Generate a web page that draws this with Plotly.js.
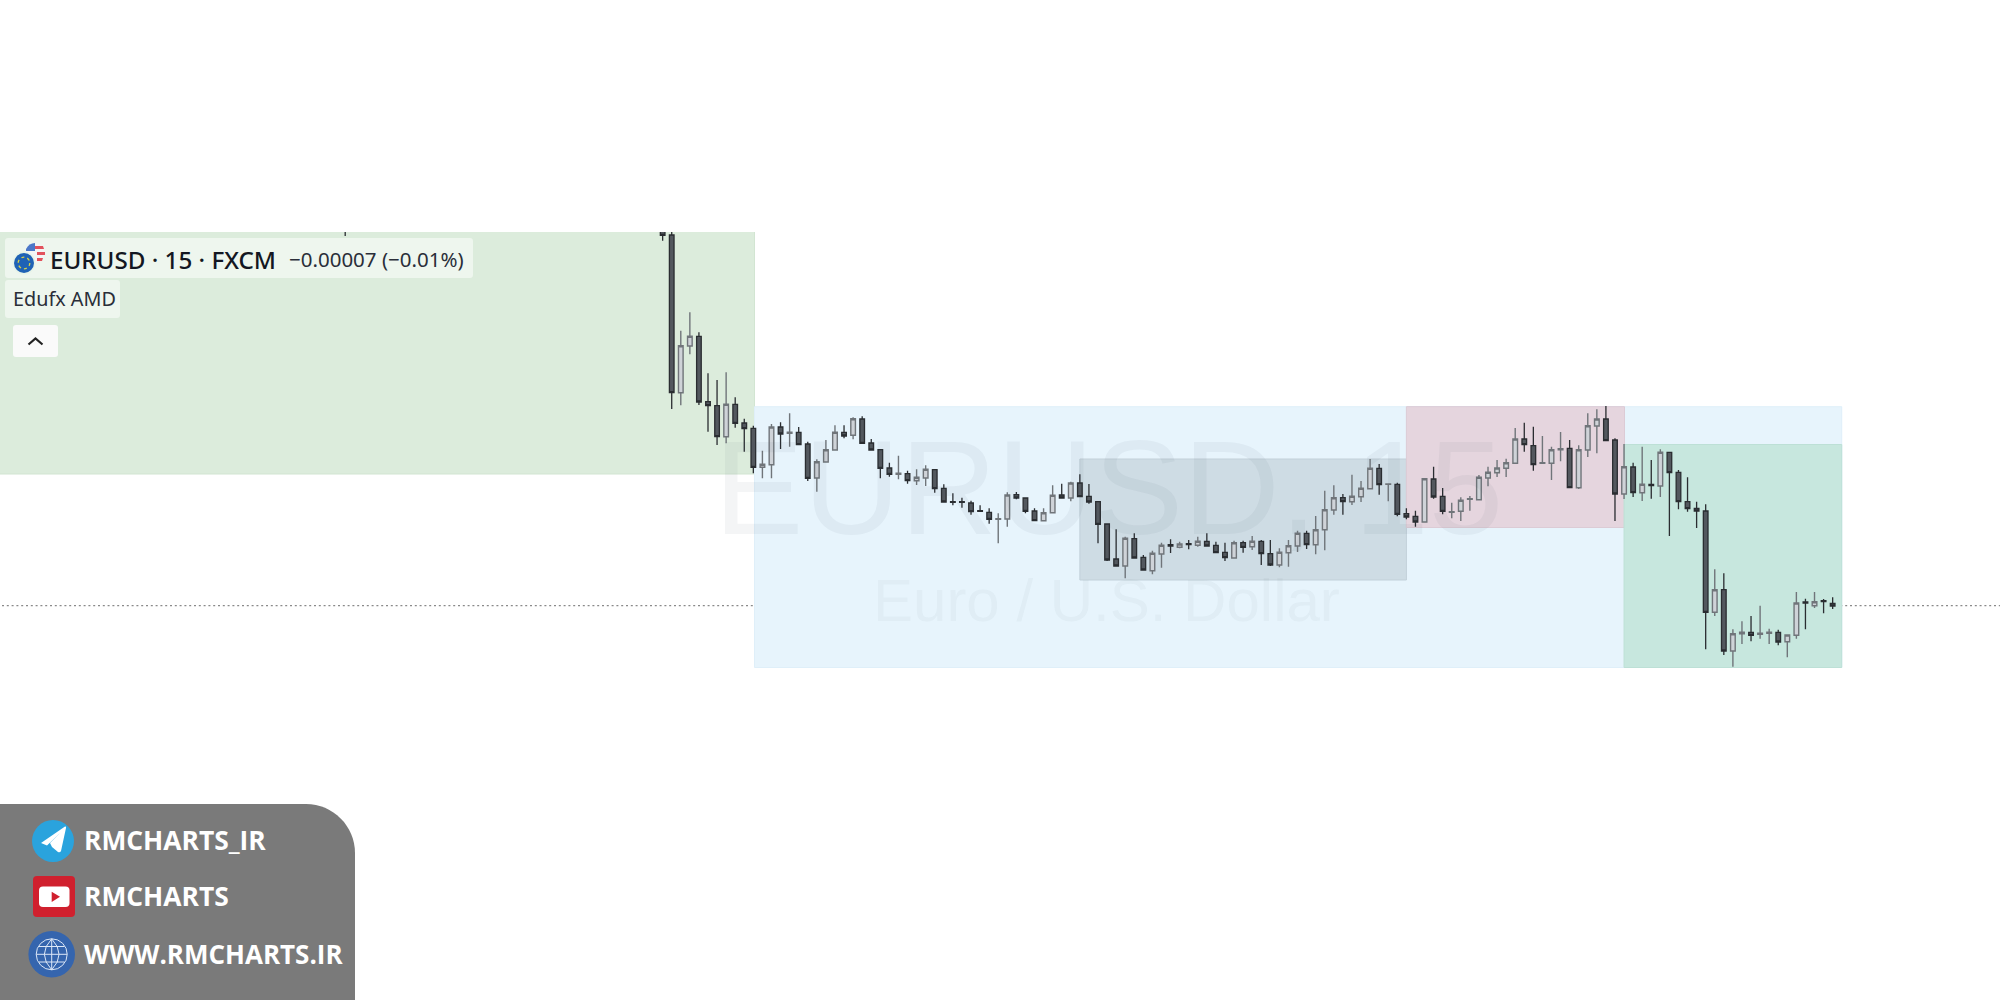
<!DOCTYPE html>
<html>
<head>
<meta charset="utf-8">
<script src="https://cdn.plot.ly/plotly-3.0.1.min.js"></script>
<style>
  html, body { margin: 0; padding: 0; background: #fff; }
  #chart { width: 2000px; height: 1000px; }
</style>
</head>
<body>
<div id="chart"></div>
<script>
// candle number on the time axis, prices are read off the picture (no scale shown, so height units)
var candleIndex = [-36, -1, 0, 1, 2, 3, 4, 5, 6, 7, 8, 9, 10, 11, 12, 13, 14, 15, 16, 17, 18, 19, 20, 21, 22, 23, 24, 25, 26, 27, 28, 29, 30, 31, 32, 33, 34, 35, 36, 37, 38, 39, 40, 41, 42, 43, 44, 45, 46, 47, 48, 49, 50, 51, 52, 53, 54, 55, 56, 57, 58, 59, 60, 61, 62, 63, 64, 65, 66, 67, 68, 69, 70, 71, 72, 73, 74, 75, 76, 77, 78, 79, 80, 81, 82, 83, 84, 85, 86, 87, 88, 89, 90, 91, 92, 93, 94, 95, 96, 97, 98, 99, 100, 101, 102, 103, 104, 105, 106, 107, 108, 109, 110, 111, 112, 113, 114, 115, 116, 117, 118, 119, 120, 121, 122, 123, 124, 125, 126, 127, 128];

var openPrice = [772, 770, 765, 607.3, 654, 663.7, 598.3, 594.3, 563.3, 595.7, 577, 571.7, 532.7, 535.3, 573, 566.7, 567.7, 556, 522, 538, 550, 567.7, 564.7, 581, 557, 550.3, 532, 525.7, 526.3, 519.3, 522, 530.3, 511.7, 498.3, 498.3, 497, 489.3, 487.7, 480.7, 481, 505.3, 502, 489, 479.3, 487.3, 505, 502, 517, 503.7, 498.3,
  476, 441, 434, 461.3, 442.7, 429.3, 446, 455.3, 452.7, 456.3, 454.7, 458.7, 454.7, 447.7, 442, 457.3, 453.3, 458.7, 446.3, 435, 447.3, 454, 466.7, 455.3, 470.3, 490, 502.3, 498.3, 503.3, 511.3, 531.7, 515.7, 515.7, 486.3, 483.7, 478, 521, 503.7, 487.7, 488.7, 500.7, 500.3, 522, 527.3, 531.7, 536.7, 561, 554.3,
  536.7, 536.7, 550.3, 551.7, 512.3, 550, 574, 581, 560, 506, 533, 507.3, 515.7, 514, 547.7, 527.7, 498.3, 491.7, 489, 387.7, 410.3, 349, 366.3, 367.7, 365.7, 366.7, 367.7, 358.3, 364.7, 398, 394.3, 399.3, 396.7];

var highPrice = [776, 772, 772, 669.3, 687.7, 667.7, 626.7, 620, 627.7, 602.7, 581.3, 574.3, 549.3, 576, 577.7, 586.7, 573, 558.3, 540.7, 560, 574.7, 574.7, 582.7, 583.7, 561, 550.7, 537.3, 544.3, 529.3, 530.7, 534.7, 530.7, 515.7, 506.7, 502.3, 499.3, 494.7, 491.7, 486.7, 507.7, 508, 502.7, 491.7, 491.7, 514.7, 516.3, 518.3, 525.7, 516, 498.3,
  476, 470.7, 463.3, 466.7, 445, 449.3, 457.3, 460.7, 458.3, 460, 463.3, 466.7, 458.3, 457.3, 459.3, 459.3, 464, 460, 460, 451.7, 460, 469.3, 469.3, 484, 509.3, 514.7, 506, 525.3, 519, 541, 536, 516.7, 517.3, 491.7, 489.3, 522, 533.3, 512, 497.3, 502.7, 504, 525, 533.3, 540, 541.3, 572, 577.3, 573.3,
  564, 553.3, 568, 560, 554.7, 586.7, 590.7, 594, 561.7, 556, 537.3, 553.3, 540, 550.7, 548.3, 530, 522.7, 498.3, 495.7, 430.7, 426.7, 370.7, 378.7, 384, 394.3, 371.3, 370.3, 365.7, 408, 401.3, 408, 401, 402.7];

var lowPrice = [764, 759.3, 591, 594.7, 645.7, 595, 568.3, 555, 556.7, 572.3, 548.3, 526.7, 521.7, 521.7, 551, 553.3, 555, 519, 508.3, 537.7, 549.7, 561.7, 560.7, 556.3, 549.7, 521.7, 523.3, 520.7, 516.3, 515, 514, 507.3, 497.7, 494.7, 492.3, 485.3, 488.7, 476.3, 456.7, 473.3, 500.7, 486.7, 479, 479, 487, 501.7, 498.7, 502.7, 496.3, 456.7,
  439, 434, 421.7, 441.7, 429.7, 425.7, 432.3, 447, 451.7, 450.7, 453.3, 453.7, 447, 439, 441.7, 447.3, 450, 435, 434, 432.7, 433.3, 448, 451, 445.7, 449.7, 485.3, 485.3, 495, 498, 511, 505.3, 498.7, 483.7, 480.7, 473.3, 477.7, 501.3, 485.7, 481.7, 479, 489.3, 500, 513.7, 523, 523, 536.3, 548.3, 529.3,
  536.7, 520, 538.7, 512, 511, 543, 546.7, 559, 479, 501, 503, 499, 501.3, 503, 464, 490.7, 488.3, 472, 350.7, 384, 345, 333.3, 356, 358.7, 361.3, 356, 354.7, 342.7, 361.3, 370.7, 392, 386.7, 391];

var closePrice = [770, 764.7, 607.3, 654.3, 663.7, 598, 594.3, 563.3, 595.7, 576.7, 571.3, 532.7, 535.7, 573, 566, 567.7, 555.3, 521.7, 538.3, 550.3, 567.7, 564, 581.3, 556.7, 550, 531.7, 525.7, 526.7, 519.3, 522.7, 530.7, 511.3, 498, 497.7, 497.7, 488.3, 488.7, 480.7, 481.3, 505, 502, 488.7, 479.3, 487.3, 504.7, 502, 517, 503.3, 498, 475.7,
  440, 434, 461.7, 442, 430, 446.7, 454.7, 454, 456, 455.3, 458.7, 454, 447.3, 442.3, 457.3, 452.7, 458.7, 446.3, 435, 447.7, 454.3, 466.7, 455.3, 470.3, 490.3, 502.3, 498.3, 503.7, 511.7, 531.7, 515.3, 516, 485.7, 483, 478, 521.3, 503, 488.7, 488.3, 499.7, 501.3, 522.7, 527.7, 532, 537.3, 561, 555.3, 535.3,
  537.3, 550.3, 551.3, 512.3, 550.3, 574.3, 581, 559.3, 506, 533.3, 507.3, 515.7, 514.3, 547.7, 527.3, 498.3, 491.3, 489, 387.7, 410.3, 349, 366.3, 367.7, 364.7, 366.7, 367.7, 358, 365, 397, 397, 398.3, 398.3, 394];

// boxes of the AMD indicator: first candle, last candle, bottom, top
var zoneNames  = ["accumulation", "range", "asia", "manipulation", "distribution"];
var zoneStart  = [-80, 9.13, 45, 81, 105];
var zoneEnd    = [9.13, 129, 81, 105.05, 129];
var zoneBottom = [526, 332.5, 420, 472.5, 332.5];
var zoneTop    = [780, 593.3, 541, 593.3, 555.5];
var zoneFill   = ["#dcecdc", "#e7f4fc", "#cedce4", "#e5d5de", "#c7e7de"];
var zoneEdge   = ["#d2e5d2", "#dfeff9", "#c2d0d9", "#dccbd5", "#bde0d6"];

var lastPrice = 394.3;

var symbolText = "EURUSD · 15 · FXCM";
var changeText = "−0.00007 (−0.01%)";
var indicatorText = "Edufx AMD";
var watermarkTop = "EURUSD, 15";
var watermarkBottom = "Euro / U.S. Dollar";
var contactLabels = ["RMCHARTS_IR", "RMCHARTS", "WWW.RMCHARTS.IR"];

// page pixels -> paper fractions, the margins are 0 so paper is the whole page
function pageX(x) { return x / 2000; }
function pageY(y) { return 1 - y / 1000; }

function pagePath(str) {
  var isX = true;
  return str.split(" ").map(function(tok) {
    if (isNaN(tok)) { isX = true; return tok; }
    var v = isX ? pageX(+tok) : pageY(+tok);
    isX = !isX;
    return v.toFixed(5);
  }).join(" ");
}

function pathShape(str, fill, lineColor, lineWidth) {
  return {
    type: "path", xref: "paper", yref: "paper", layer: "above",
    path: pagePath(str), fillcolor: fill || "rgba(0,0,0,0)",
    line: { color: lineColor || "rgba(0,0,0,0)", width: lineWidth || 0 }
  };
}

function circleShape(cx, cy, r, fill, lineColor, lineWidth, dash) {
  return {
    type: "circle", xref: "paper", yref: "paper", layer: "above",
    x0: pageX(cx - r), x1: pageX(cx + r), y0: pageY(cy + r), y1: pageY(cy - r),
    fillcolor: fill || "rgba(0,0,0,0)",
    line: { color: lineColor || "rgba(0,0,0,0)", width: lineWidth || 0, dash: dash || "solid" }
  };
}

function roundRect(x0, y0, x1, y1, r) {
  return "M " + (x0 + r) + " " + y0 + " L " + (x1 - r) + " " + y0 + " Q " + x1 + " " + y0 + " " + x1 + " " + (y0 + r) +
    " L " + x1 + " " + (y1 - r) + " Q " + x1 + " " + y1 + " " + (x1 - r) + " " + y1 +
    " L " + (x0 + r) + " " + y1 + " Q " + x0 + " " + y1 + " " + x0 + " " + (y1 - r) +
    " L " + x0 + " " + (y0 + r) + " Q " + x0 + " " + y0 + " " + (x0 + r) + " " + y0 + " Z";
}

function label(text, x, y, size, color, family, weight) {
  return {
    text: text, xref: "paper", yref: "paper", x: pageX(x), y: pageY(y),
    xanchor: "left", yanchor: "middle", showarrow: false, borderpad: 0,
    font: { size: size, color: color, family: family, weight: weight || 400 }
  };
}

var trace = {
  type: "candlestick",
  x: candleIndex,
  open: openPrice,
  high: highPrice,
  low: lowPrice,
  close: closePrice,
  whiskerwidth: 0,
  increasing: { line: { color: "#70757a", width: 1.4 }, fillcolor: "#cfd3d8" },
  decreasing: { line: { color: "#2a2d31", width: 1.3 }, fillcolor: "#53585e" },
  hoverinfo: "skip"
};

var shapes = [];

zoneNames.forEach(function(name, i) {
  shapes.push({
    type: "rect", xref: "x", yref: "y", layer: "below",
    x0: zoneStart[i], x1: zoneEnd[i], y0: zoneBottom[i], y1: zoneTop[i],
    fillcolor: zoneFill[i], line: { color: zoneEdge[i], width: 1 }
  });
});

shapes.push({
  type: "line", xref: "paper", yref: "y", layer: "below",
  x0: 0.001, x1: 1, y0: lastPrice, y1: lastPrice,
  line: { color: "#8a8a8a", width: 1.2, dash: "2px,2.8px" }
});

// legend boxes
shapes.push(pathShape(roundRect(5, 238, 473, 278, 3), "rgba(255,255,255,0.5)"));
shapes.push(pathShape(roundRect(5, 280, 120, 318, 3), "rgba(255,255,255,0.5)"));
shapes.push(pathShape(roundRect(13, 325, 58, 357, 3), "#fafafa"));
shapes.push(pathShape("M 28.5 344.5 L 35.5 338.5 L 42.5 344.5", null, "#222222", 2.2));

// flag icon
shapes.push(circleShape(35, 253, 10, "#f4f4f4"));
shapes.push(pathShape("M 33 246 L 43 246 L 44 249 L 33 249 Z", "#e2525c"));
shapes.push(pathShape("M 37 252 L 45 252 L 45 255 L 37 255 Z", "#e2525c"));
shapes.push(pathShape("M 37 258 L 43 258 L 42 261 L 37 261 Z", "#e2525c"));
shapes.push(pathShape("M 26 249 Q 29 243 35 243 L 35 251 L 26 251 Z", "#4c78c8"));
shapes.push(circleShape(24, 263, 11.5, "#e8f4e8"));
shapes.push(circleShape(24, 263, 10, "#1f62b5"));
shapes.push(circleShape(24, 263, 5.8, null, "#d8d24a", 1.3, "dot"));

// contact panel
shapes.push(pathShape("M 0 804 L 306 804 C 333 804 355 826 355 853 L 355 1000 L 0 1000 Z", "#7a7a7a"));
shapes.push(circleShape(53, 841, 21, "#2aa3dd"));
shapes.push(pathShape("M 41 843 L 65 826.5 Q 66.5 826 66 828 L 61 851 Q 60 853 58 852 L 52 847 L 50 843 L 60 833 L 47 845.5 Z", "#ffffff"));
shapes.push(pathShape(roundRect(33, 876, 75, 917, 4), "#d0202e"));
shapes.push(pathShape(roundRect(39, 886.5, 69.5, 907, 4), "#ffffff"));
shapes.push(pathShape("M 51.7 891.7 L 60 896.8 L 51.7 902 Z", "#d0202e"));
shapes.push(circleShape(51.7, 954.3, 23.3, "#3565ae"));
shapes.push(circleShape(51.7, 954.3, 15.5, null, "#dce7f7", 1));
shapes.push(pathShape("M 51.7 938.8 Q 37 954.3 51.7 969.8 Q 66.4 954.3 51.7 938.8 Z", null, "#dce7f7", 1));
shapes.push(pathShape("M 51.7 938.8 L 51.7 969.8", null, "#dce7f7", 1));
shapes.push(pathShape("M 36.2 954.3 L 67.2 954.3", null, "#dce7f7", 1));
shapes.push(pathShape("M 39 946.5 L 64.4 946.5", null, "#dce7f7", 1));
shapes.push(pathShape("M 39 962 L 64.4 962", null, "#dce7f7", 1));

var annotations = [
  label(watermarkTop, 713, 487, 134, "rgba(70,85,100,0.06)", "Liberation Sans"),
  label(watermarkBottom, 872, 600, 60, "rgba(70,85,100,0.045)", "Liberation Sans"),
  label(symbolText, 49, 259, 24.2, "#131722", "Noto Sans", 500),
  label(changeText, 288, 259, 20.5, "#2a2e39", "Noto Sans"),
  label(indicatorText, 12, 299, 19.8, "#2a2e39", "Noto Sans"),
  label(contactLabels[0], 83, 840, 26.4, "#ffffff", "Open Sans", 700),
  label(contactLabels[1], 83, 896, 26.4, "#ffffff", "Open Sans", 700),
  label(contactLabels[2], 83, 954, 26, "#ffffff", "Open Sans", 700)
];

var layout = {
  width: 2000,
  height: 1000,
  margin: { l: 0, r: 0, t: 0, b: 0 },
  paper_bgcolor: "#ffffff",
  plot_bgcolor: "#ffffff",
  showlegend: false,
  boxgap: 0.27,
  xaxis: { range: [-74.06, 146.45], visible: false, fixedrange: true, rangeslider: { visible: false } },
  yaxis: { range: [0, 768], domain: [0, 0.768], visible: false, fixedrange: true },
  shapes: shapes,
  annotations: annotations
};

Plotly.newPlot("chart", [trace], layout, { displayModeBar: false, staticPlot: true });
</script>
</body>
</html>
